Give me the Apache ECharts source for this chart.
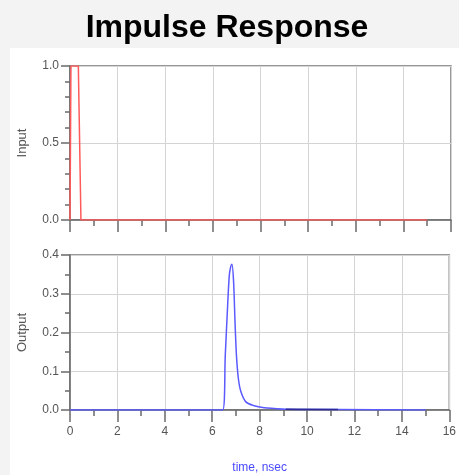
<!DOCTYPE html>
<html>
<head>
<meta charset="utf-8">
<script src="https://cdn.jsdelivr.net/npm/echarts@6/dist/echarts.min.js"></script>
<style>
html,body{margin:0;padding:0;background:#f3f3f3;}
#c{width:459px;height:475px;}
</style>
</head>
<body>
<div id="c"></div>
<script>
// ---- data ----
const titleText = 'Impulse Response';
const inputTime  = [0, 0.04, 0.35, 0.46, 15];
const inputValue = [0, 1, 1, 0, 0];
const outputTime  = [0, 6.44, 6.55, 6.65, 6.72, 6.78, 6.83, 6.90, 6.96, 7.02, 7.10, 7.21, 7.42, 7.77, 8.19, 8.61, 9.1, 11.3, 15];
const outputValue = [0, 0, 0.142, 0.271, 0.348, 0.370, 0.376, 0.331, 0.228, 0.142, 0.082, 0.047, 0.021, 0.011, 0.006, 0.004, 0.002, 0.001, 0];
const tailTime  = [9.1, 11.3];
const tailValue = [0.002, 0.001];
const xTicks = [0, 2, 4, 6, 8, 10, 12, 14, 16];

const zip = (a, b) => a.map((v, i) => [v, b[i]]);
const font = 'Liberation Sans, Arial, sans-serif';
const axisCol = '#6a6a6a';
const gridCol = '#d4d4d4';

function xAxis(gridIndex, showLabels) {
  return {
    type: 'value', gridIndex, min: 0, max: 16, interval: 2,
    axisLine: {show: true, onZero: false, lineStyle: {color: axisCol, width: 1.5}},
    axisTick: {show: true, inside: false, length: 12, lineStyle: {color: axisCol, width: 1.5}},
    minorTick: {show: true, splitNumber: 2, length: 6, lineStyle: {color: axisCol, width: 1.5}},
    splitLine: {show: true, lineStyle: {color: gridCol, width: 1}},
    axisLabel: {show: showLabels, color: '#555', fontFamily: font, fontSize: 12, margin: 16,
      formatter: v => xTicks.includes(v) ? String(v) : ''},
    name: showLabels ? 'time, nsec' : '',
    nameLocation: 'middle', nameGap: 52,
    nameTextStyle: {color: '#4a4aff', fontFamily: font, fontSize: 12}
  };
}
function yAxis(gridIndex, max, interval, minorSplit, name) {
  return {
    type: 'value', gridIndex, min: 0, max, interval,
    axisLine: {show: true, onZero: false, lineStyle: {color: axisCol, width: 1.5}},
    axisTick: {show: true, inside: false, length: 9, lineStyle: {color: axisCol, width: 1.5}},
    minorTick: {show: true, splitNumber: minorSplit, length: 5, lineStyle: {color: axisCol, width: 1.5}},
    splitLine: {show: true, lineStyle: {color: gridCol, width: 1}},
    axisLabel: {color: '#555', fontFamily: font, fontSize: 12, margin: 11,
      formatter: v => v.toFixed(1)},
    name, nameLocation: 'middle', nameGap: 41, nameRotate: 90,
    nameTextStyle: {color: '#555', fontFamily: font, fontSize: 13}
  };
}

const chart = echarts.init(document.getElementById('c'), null, {renderer: 'canvas'});
chart.setOption({
  animation: false,
  backgroundColor: '#f3f3f3',
  graphic: [{type: 'rect', z: -10, shape: {x: 10, y: 48, width: 449, height: 427}, style: {fill: '#ffffff'}}],
  title: {text: titleText, left: 222, top: 7, textAlign: 'center',
    textStyle: {fontFamily: font, fontWeight: 'bold', fontSize: 32, color: '#000'}},
  grid: [
    {left: 70, top: 66, width: 381, height: 154, show: true, borderColor: '#777', borderWidth: 1.5, backgroundColor: 'transparent'},
    {left: 70, top: 255, width: 381, height: 155, show: true, borderColor: '#777', borderWidth: 1.5, backgroundColor: 'transparent'}
  ],
  xAxis: [xAxis(0, false), xAxis(1, true)],
  yAxis: [yAxis(0, 1, 0.5, 5, 'Input'), yAxis(1, 0.4, 0.1, 2, 'Output')],
  series: [
    {type: 'line', xAxisIndex: 0, yAxisIndex: 0, data: zip(inputTime, inputValue),
      showSymbol: false, lineStyle: {color: '#ff5a5a', width: 1.5}, z: 5},
    {type: 'line', xAxisIndex: 1, yAxisIndex: 1, data: zip(outputTime, outputValue),
      smooth: 0.3, showSymbol: false, lineStyle: {color: '#5a5aff', width: 1.5}, z: 5},
    {type: 'line', xAxisIndex: 1, yAxisIndex: 1, data: zip(tailTime, tailValue),
      showSymbol: false, lineStyle: {color: '#2a2a9a', width: 1.5}, z: 6}
  ]
});
</script>
</body>
</html>
